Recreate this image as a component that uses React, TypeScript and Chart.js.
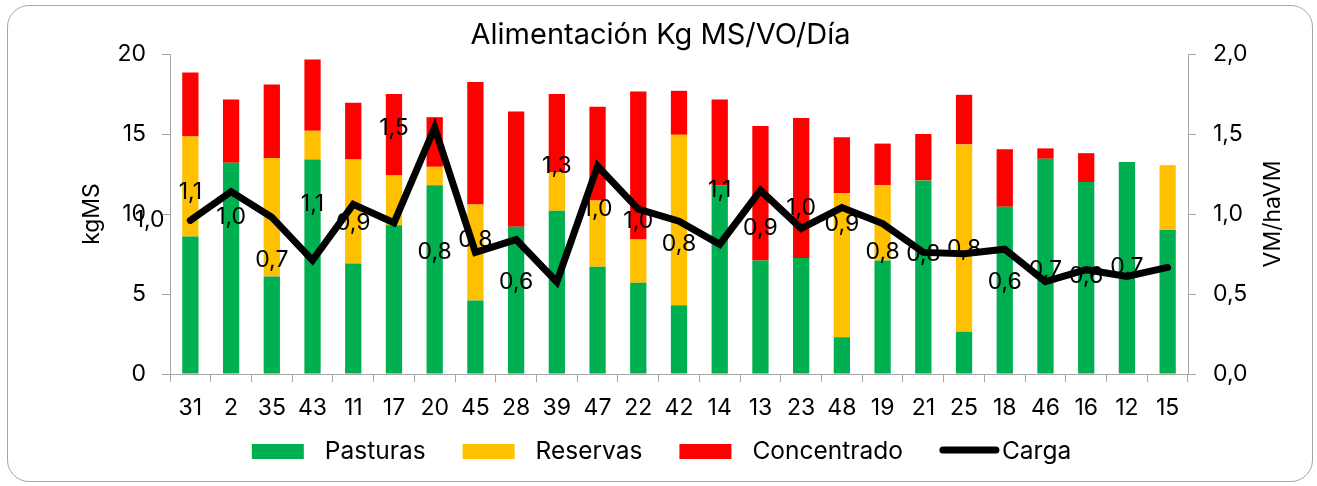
import React, { useEffect, useRef } from "react";
import { Chart, registerables } from "chart.js";
Chart.register(...registerables);

const categories = ["31", "2", "35", "43", "11", "17", "20", "45", "28", "39", "47", "22", "42", "14", "13", "23", "48", "19", "21", "25", "18", "46", "16", "12", "15"];
const pasturas = [8.6, 13.2, 6.1, 13.4, 6.9, 9.3, 11.8, 4.6, 9.2, 10.2, 6.7, 5.7, 4.3, 11.8, 7.1, 7.25, 2.3, 7.1, 12.1, 2.65, 10.45, 13.45, 12.0, 13.25, 9.0];
const reservas = [6.25, 0, 7.4, 1.8, 6.5, 3.1, 1.15, 6.0, 0, 2.4, 4.15, 2.7, 10.65, 0, 0, 0, 9.0, 4.7, 0, 11.7, 0, 0, 0, 0, 4.05];
const concentrado = [4.0, 3.95, 4.6, 4.45, 3.55, 5.1, 3.1, 7.65, 7.2, 4.9, 5.85, 9.25, 2.75, 5.35, 8.4, 8.75, 3.5, 2.6, 2.9, 3.1, 3.6, 0.65, 1.8, 0, 0];
const carga = [0.96, 1.14, 0.98, 0.71, 1.06, 0.945, 1.54, 0.76, 0.84, 0.575, 1.3, 1.03, 0.955, 0.81, 1.148, 0.91, 1.04, 0.94, 0.76, 0.752, 0.78, 0.577, 0.652, 0.61, 0.666];

const titleText = "Alimentación Kg MS/VO/Día";
const leftAxisTitle = "kgMS";
const rightAxisTitle = "VM/haVM";

const FONT = "Inter";
const TEXT = "#000000";
const AXIS = "#a6a6a6";
const GREEN = "#00B050";
const YELLOW = "#FFC000";
const RED = "#FF0000";

const fmt = (v: number) => v.toFixed(1).replace(".", ",");

export default function App() {
  const ref = useRef<HTMLCanvasElement>(null);

  useEffect(() => {
    document.body.style.margin = "0";
    const canvas = ref.current!;

    const decor = {
      id: "decor",
      beforeDatasetDraw(chart: any, args: any) {
        if (args.index !== 3) return;
        const ctx = chart.ctx;
        const meta = chart.getDatasetMeta(3);
        const xs = chart.scales.x;
        const step = xs.getPixelForValue(1) - xs.getPixelForValue(0);
        ctx.save();
        ctx.font = `23px ${FONT}`;
        ctx.fillStyle = TEXT;
        ctx.textAlign = "center";
        ctx.textBaseline = "middle";
        meta.data.forEach((pt: any, i: number) => {
          ctx.fillText(fmt(carga[i]), pt.x - step, pt.y);
        });
        ctx.restore();
      },
      afterDraw(chart: any) {
        const ctx = chart.ctx;
        const ca = chart.chartArea;
        ctx.save();
        ctx.fillStyle = TEXT;
        // title
        ctx.font = `29px ${FONT}`;
        ctx.textAlign = "center";
        ctx.textBaseline = "alphabetic";
        ctx.fillText(titleText, chart.width / 2 + 2, ca.top - 10);
        // axis titles
        ctx.font = `23px ${FONT}`;
        ctx.textBaseline = "middle";
        const midY = (ca.top + ca.bottom) / 2;
        ctx.save();
        ctx.translate(ca.left - 78, midY);
        ctx.rotate(-Math.PI / 2);
        ctx.fillText(leftAxisTitle, 0, 0);
        ctx.restore();
        ctx.save();
        ctx.translate(ca.right + 85, midY);
        ctx.rotate(-Math.PI / 2);
        ctx.fillText(rightAxisTitle, 0, 0);
        ctx.restore();
        // legend
        ctx.font = `24.5px ${FONT}`;
        ctx.textAlign = "left";
        ctx.textBaseline = "alphabetic";
        const items = chart.data.datasets.map((d: any) => ({
          label: d.label,
          color: d.type === "line" ? d.borderColor : d.backgroundColor,
          line: d.type === "line",
        }));
        const boxW = 52;
        const lineW = 59;
        const gapBoxText = 21;
        const gapLineText = 3;
        const gapItem = 37;
        let total = 0;
        items.forEach((it: any, i: number) => {
          const tw = ctx.measureText(it.label).width;
          total += (it.line ? lineW + gapLineText : boxW + gapBoxText) + tw;
          if (i < items.length - 1) total += gapItem;
        });
        let x = chart.width / 2 + 3 - total / 2;
        const base = 459;
        items.forEach((it: any) => {
          const tw = ctx.measureText(it.label).width;
          if (it.line) {
            ctx.save();
            ctx.strokeStyle = it.color;
            ctx.lineWidth = 7;
            ctx.lineCap = "round";
            ctx.beginPath();
            ctx.moveTo(x + 3, base - 9);
            ctx.lineTo(x + lineW - 3, base - 9);
            ctx.stroke();
            ctx.restore();
            x += lineW + gapLineText;
          } else {
            ctx.fillStyle = it.color;
            ctx.fillRect(x, base - 15, boxW, 15);
            x += boxW + gapBoxText;
          }
          ctx.fillStyle = TEXT;
          ctx.fillText(it.label, x, base);
          x += tw + gapItem;
        });
        ctx.restore();
      },
    };

    const chart = new Chart(canvas, {
      type: "bar",
      data: {
        labels: categories,
        datasets: [
          { type: "bar", label: "Pasturas", data: pasturas, backgroundColor: GREEN, yAxisID: "y", order: 1, categoryPercentage: 1, barPercentage: 0.4 },
          { type: "bar", label: "Reservas", data: reservas, backgroundColor: YELLOW, yAxisID: "y", order: 1, categoryPercentage: 1, barPercentage: 0.4 },
          { type: "bar", label: "Concentrado", data: concentrado, backgroundColor: RED, yAxisID: "y", order: 1, categoryPercentage: 1, barPercentage: 0.4 },
          {
            type: "line", label: "Carga", data: carga, yAxisID: "y1", order: 0,
            borderColor: "#000000", backgroundColor: "#000000", borderWidth: 7,
            pointRadius: 0, borderCapStyle: "round", borderJoinStyle: "miter", tension: 0,
          },
        ] as any,
      },
      options: {
        responsive: false,
        animation: false,
        devicePixelRatio: 1,
        layout: { padding: { top: 54, left: 0, right: 0, bottom: 0 } },
        plugins: {
          legend: { display: false },
          title: { display: false },
          tooltip: { enabled: false },
        },
        scales: {
          x: {
            stacked: true,
            grid: { display: true, drawOnChartArea: false, drawTicks: true, tickLength: 8, color: AXIS, offset: true },
            border: { color: AXIS, width: 1 },
            ticks: { font: { family: FONT, size: 23 }, color: TEXT, padding: 12, maxRotation: 0, autoSkip: false },
            afterFit: (s: any) => { s.height = 112; },
          },
          y: {
            stacked: true,
            position: "left",
            min: 0,
            max: 20,
            grid: { drawOnChartArea: false, drawTicks: true, tickLength: 8, color: AXIS },
            border: { color: AXIS, width: 1 },
            ticks: { stepSize: 5, font: { family: FONT, size: 23 }, color: TEXT, padding: 16 },
            afterFit: (s: any) => { s.width = 170; },
          },
          y1: {
            position: "right",
            min: 0,
            max: 2,
            grid: { drawOnChartArea: false, drawTicks: true, tickLength: 8, color: AXIS },
            border: { color: AXIS, width: 1 },
            ticks: { stepSize: 0.5, font: { family: FONT, size: 23 }, color: TEXT, padding: 17, callback: (v: any) => fmt(Number(v)) },
            afterFit: (s: any) => { s.width = 129; },
          },
        },
      } as any,
      plugins: [decor],
    });
    return () => chart.destroy();
  }, []);

  return (
    <div style={{ position: "relative", width: 1317, height: 486, background: "#ffffff", overflow: "hidden" }}>
      <canvas ref={ref} width={1317} height={486} style={{ position: "absolute", left: 0, top: 0, width: 1317, height: 486 }} />
      <div
        style={{
          position: "absolute", left: 7, top: 5, width: 1306, height: 477,
          border: "1.5px solid #a6a6a6", borderRadius: 22, boxSizing: "border-box", pointerEvents: "none",
        }}
      />
    </div>
  );
}
